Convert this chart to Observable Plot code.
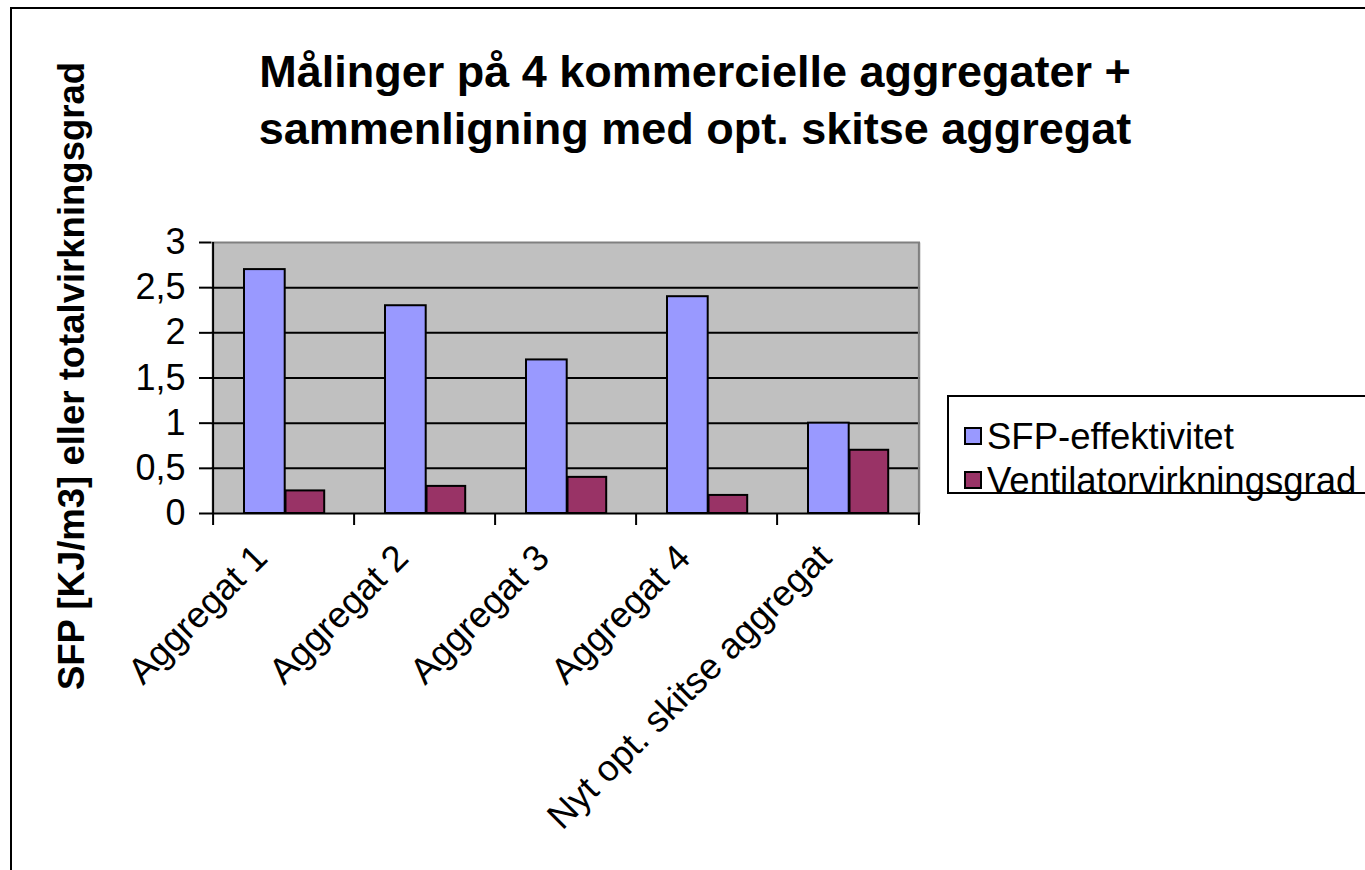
<!DOCTYPE html>
<html><head><meta charset="utf-8">
<script src="https://cdn.jsdelivr.net/npm/d3@7"></script>
<script src="https://cdn.jsdelivr.net/npm/@observablehq/plot@0.6"></script>
<style>
html,body{margin:0;padding:0;background:#fff;overflow:hidden}
#wrap{position:relative;width:1365px;height:870px;overflow:hidden;font-family:"Liberation Sans",Arial,sans-serif;color:#000}
#border{position:absolute;left:10px;top:7px;width:1420px;height:920px;border-left:2px solid #000;border-top:2px solid #000}
#chart{position:absolute;left:0;top:0}
#title{position:absolute;left:0;width:1390px;top:43px;text-align:center;font-weight:bold;font-size:45px;line-height:57px}
#ylabel{position:absolute;left:72px;top:376px;transform:translate(-50%,-50%) rotate(-90deg);font-weight:bold;font-size:36.5px;white-space:nowrap}
#legend{position:absolute;left:947px;top:395px;width:460px;height:95px;border:2px solid #000;background:#fff;font-size:36.5px}
.row{position:absolute;left:15px;white-space:nowrap;line-height:40px}
.sw{display:inline-block;width:14px;height:14px;border:2px solid #000;margin-right:5px;vertical-align:middle;position:relative;top:-3px}
</style></head>
<body>
<div id="wrap">
  <div id="border"></div>
  <div id="chart"></div>
  <div id="title">Målinger på 4 kommercielle aggregater +<br>sammenligning med opt. skitse aggregat</div>
  <div id="ylabel">SFP [KJ/m3] eller totalvirkningsgrad</div>
  <div id="legend"></div>
</div>
<script>
const categories = ["Aggregat 1", "Aggregat 2", "Aggregat 3", "Aggregat 4", "Nyt opt. skitse aggregat"];
const seriesNames = ["SFP-effektivitet", "Ventilatorvirkningsgrad"];
const sfp = [2.7, 2.3, 1.7, 2.4, 1.0];
const vent = [0.25, 0.3, 0.4, 0.2, 0.7];
const yTicks = [0, 0.5, 1, 1.5, 2, 2.5, 3];
const colors = ["#9999FF", "#993366"];

const W = 1365, H = 870, mL = 211, mR = 445, mT = 242, mB = 357;
const step = (W - mL - mR) / categories.length;

const sfpData = categories.map((c, i) => ({cat: c, value: sfp[i]}));
const ventData = categories.map((c, i) => ({cat: c, value: vent[i]}));

const chart = Plot.plot({
  width: W, height: H,
  marginLeft: mL, marginRight: mR, marginTop: mT, marginBottom: mB,
  style: {fontFamily: "'Liberation Sans', Arial, sans-serif", background: "transparent", color: "#000"},
  x: {type: "band", domain: categories, padding: 0, axis: null},
  y: {domain: [0, 3], axis: null},
  marks: [
    Plot.frame({fill: "#C0C0C0"}),
    Plot.ruleY(yTicks.filter(d => d > 0 && d < 3), {stroke: "#000", strokeWidth: 2}),
    Plot.ruleY([3], {stroke: "#808080", strokeWidth: 2}),
    Plot.ruleX([categories[categories.length - 1]], {dx: step / 2, stroke: "#808080", strokeWidth: 2}),
    Plot.barY(sfpData, {x: "cat", y: "value", fill: colors[0], stroke: "#000", strokeWidth: 2,
      insetLeft: 31, insetRight: step - 72.5}),
    Plot.barY(ventData, {x: "cat", y: "value", fill: colors[1], stroke: "#000", strokeWidth: 2,
      insetLeft: 72.5, insetRight: step - 112}),
    Plot.ruleY([0], {stroke: "#000", strokeWidth: 2}),
    Plot.ruleX([categories[0]], {dx: -step / 2, stroke: "#000", strokeWidth: 2, insetBottom: -12}),
    Plot.ruleX(categories.slice(1), {x: d => d, dx: -step / 2, y1: 0, y2: 0, insetBottom: -12, stroke: "#000", strokeWidth: 2}),
    Plot.ruleX([categories[categories.length - 1]], {x: d => d, dx: step / 2, y1: 0, y2: 0, insetBottom: -12, stroke: "#000", strokeWidth: 2}),
    Plot.axisY({ticks: yTicks, tickFormat: d => String(d).replace(".", ","), tickSize: 12, tickPadding: 14,
      fontSize: 36, stroke: "#000", strokeWidth: 2, fill: "#000", label: null, strokeOpacity: 1}),
    Plot.text(categories, {x: d => d, frameAnchor: "bottom", rotate: -45, textAnchor: "end", lineAnchor: "top",
      dx: -33, dy: 28, fontSize: 36.5, fill: "#000"})
  ]
});
document.getElementById("chart").appendChild(chart);

const legend = document.getElementById("legend");
seriesNames.forEach((name, i) => {
  const row = document.createElement("div");
  row.className = "row";
  row.style.top = (20 + i * 44) + "px";
  const sw = document.createElement("span");
  sw.className = "sw";
  sw.style.background = colors[i];
  row.appendChild(sw);
  row.appendChild(document.createTextNode(name));
  legend.appendChild(row);
});
</script>
</body></html>
